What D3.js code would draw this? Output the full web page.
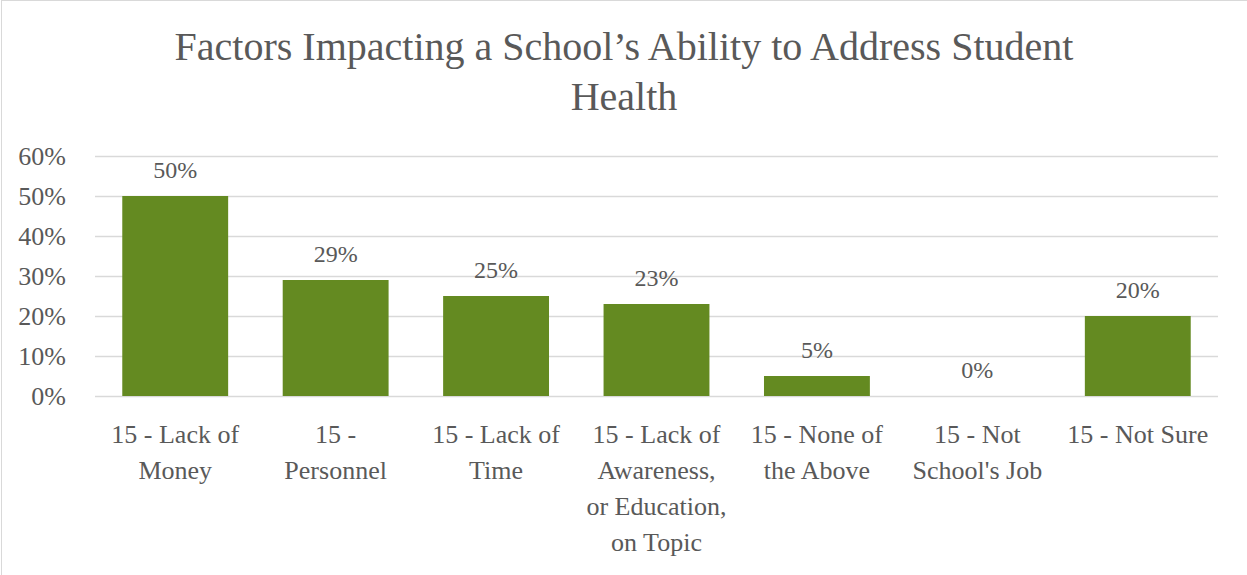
<!DOCTYPE html>
<html><head><meta charset="utf-8">
<script src="https://cdn.jsdelivr.net/npm/d3@7"></script>
<style>body{margin:0;background:#fff}svg{display:block}text{font-family:"Liberation Serif",serif;fill:#595959}</style>
</head><body><div id="c"></div>
<script>
const categories = ["15 - Lack of Money","15 - Personnel","15 - Lack of Time","15 - Lack of Awareness, or Education, on Topic","15 - None of the Above","15 - Not School's Job","15 - Not Sure"];
const categoryLines = [["15 - Lack of","Money"],["15 -","Personnel"],["15 - Lack of","Time"],["15 - Lack of","Awareness,","or Education,","on Topic"],["15 - None of","the Above"],["15 - Not","School's Job"],["15 - Not Sure"]];
const values = [0.50,0.29,0.25,0.23,0.05,0.00,0.20];
const yTicks = [0,0.1,0.2,0.3,0.4,0.5,0.6];
const titleLines = ["Factors Impacting a School’s Ability to Address Student","Health"];

const W=1247,H=575;
const svg=d3.select("#c").append("svg").attr("width",W).attr("height",H);
svg.append("rect").attr("x",1.5).attr("y",0.5).attr("width",W+10).attr("height",H+10).attr("fill","#fff").attr("stroke","#d9d9d9");

const x=d3.scaleBand().domain(categories).range([95,1218]).paddingInner(0.34).paddingOuter(0.17);
const y=d3.scaleLinear().domain([0,0.6]).range([396,156]);

svg.append("g").selectAll("line").data(yTicks).join("line")
 .attr("x1",95).attr("x2",1218).attr("y1",d=>y(d)+0.5).attr("y2",d=>y(d)+0.5)
 .attr("stroke","#d9d9d9").attr("stroke-width",1.5);

const ya=d3.axisLeft(y).tickValues(yTicks).tickFormat(d3.format(".0%")).tickSize(0).tickPadding(0);
const yg=svg.append("g").attr("transform","translate(66,0)").call(ya);
yg.select(".domain").remove();
yg.selectAll("text").attr("font-size",26).attr("font-family","Liberation Serif").attr("fill","#595959").attr("dy","0.34em");

svg.append("g").selectAll("rect").data(values).join("rect")
 .attr("x",(d,i)=>x(categories[i])).attr("width",x.bandwidth())
 .attr("y",d=>y(d)).attr("height",d=>y(0)-y(d))
 .attr("fill","#648a21").attr("stroke",d=>d===0?"#cfcfcf":"none").attr("stroke-width",1.5);

svg.append("g").selectAll("text").data(values).join("text")
 .attr("x",(d,i)=>x(categories[i])+x.bandwidth()/2).attr("y",d=>y(d)-18)
 .attr("text-anchor","middle").attr("font-size",24).text(d=>d3.format(".0%")(d));

const xg=svg.append("g");
categories.forEach((c,i)=>{
  const t=xg.append("text").attr("text-anchor","middle").attr("font-size",26)
    .attr("x",x(c)+x.bandwidth()/2).attr("y",443);
  categoryLines[i].forEach((l,j)=>t.append("tspan").attr("x",x(c)+x.bandwidth()/2).attr("dy",j?36:0).text(l));
});

svg.append("g").selectAll("text").data(titleLines).join("text")
 .attr("x",624).attr("y",(d,i)=>60+i*50).attr("text-anchor","middle").attr("font-size",40).text(d=>d);
</script></body></html>
